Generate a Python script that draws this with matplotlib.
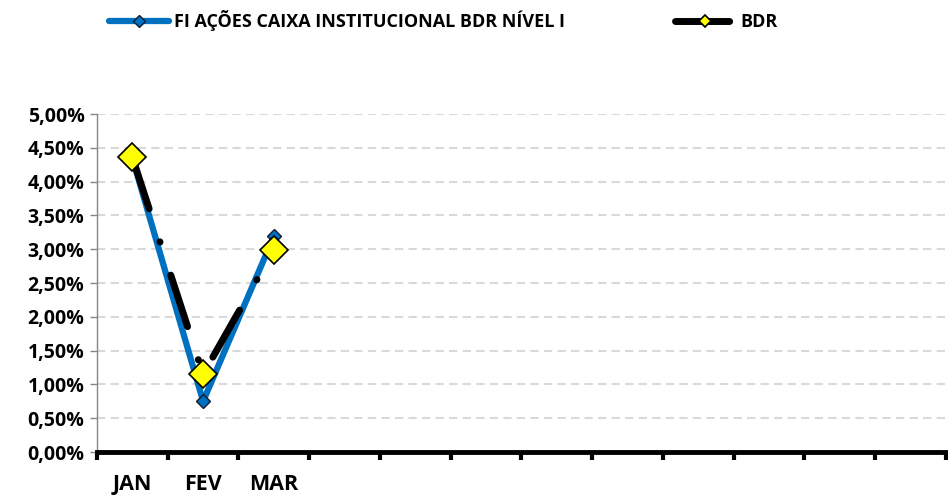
import matplotlib.pyplot as plt
from matplotlib.ticker import FuncFormatter, FixedLocator
import numpy as np

# Data
months = ['JAN', 'FEV', 'MAR', '', '', '', '', '', '', '', '', '']
fundo = [4.35, 0.75, 3.19]   # FI AÇÕES CAIXA INSTITUCIONAL BDR NÍVEL I (%)
bdr = [4.36, 1.15, 2.99]     # BDR (%)
fundo_label = 'FI AÇÕES CAIXA INSTITUCIONAL BDR NÍVEL I'
bdr_label = 'BDR'

plt.rcParams['font.family'] = ['Open Sans', 'DejaVu Sans']
plt.rcParams['font.weight'] = 'bold'

fig = plt.figure(figsize=(9.48, 4.97), dpi=100)
ax = fig.add_axes([0.1023, 0.0905, 0.8955, 0.6801])

x = np.arange(len(months))
ax.plot(x[:len(fundo)], fundo, color='#0070C0', linewidth=4.5,
        marker='D', markersize=7, markerfacecolor='#0070C0',
        markeredgecolor='#1a1a2e', markeredgewidth=1.0,
        solid_capstyle='round', label=fundo_label, zorder=3)
ax.plot(x[:len(bdr)], bdr, color='black', linewidth=5,
        linestyle=(0, (7.8, 5, 0.05, 5)), dash_capstyle='round',
        marker='D', markersize=14, markerfacecolor='#FFFF00',
        markeredgecolor='black', markeredgewidth=1.2,
        label=bdr_label, zorder=4)

# Axes
ax.set_xlim(-0.5, len(months) - 0.5)
ax.set_ylim(0, 5)
ax.yaxis.set_major_locator(FixedLocator(np.arange(0, 5.01, 0.5)))
ax.yaxis.set_major_formatter(FuncFormatter(lambda v, p: f'{v:.2f}'.replace('.', ',') + '%'))
ax.grid(axis='y', color='#D9D9D9', linestyle=(0, (4, 2.5)), linewidth=1.5, zorder=0)
ax.set_axisbelow(True)

ax.set_xticks(x)
ax.set_xticklabels(months)
ax.set_xticks(np.arange(-0.5, len(months), 1), minor=True)
ax.tick_params(axis='x', which='major', length=0, pad=16, labelsize=15.5)
ax.tick_params(axis='x', which='minor', length=6, width=3, color='black', direction='out')
ax.tick_params(axis='y', length=5, width=1, color='#868686', labelsize=14, pad=4)

for s in ['top', 'right']:
    ax.spines[s].set_visible(False)
ax.spines['left'].set_color('#868686')
ax.spines['left'].set_linewidth(1)
ax.spines['bottom'].set_color('black')
ax.spines['bottom'].set_linewidth(3.5)

for lbl in ax.get_xticklabels() + ax.get_yticklabels():
    lbl.set_fontweight('bold')

leg = fig.legend(loc='upper left', bbox_to_anchor=(0.098, 1.012), ncol=2, frameon=False,
                 handlelength=3.3, columnspacing=6.1, prop={'weight': 'bold', 'size': 13},
                 handletextpad=0.3)
for h in leg.legend_handles:
    h.set_markersize(6)

plt.savefig('out.png', dpi=100)
